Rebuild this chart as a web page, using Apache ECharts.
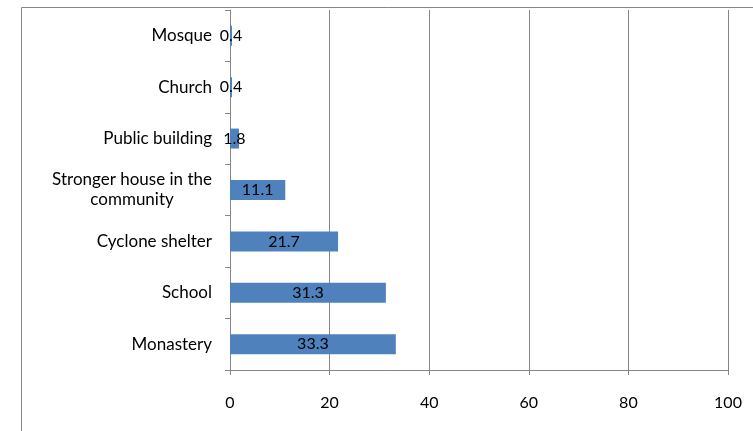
<!DOCTYPE html>
<html>
<head>
<meta charset="utf-8">
<script src="https://cdn.jsdelivr.net/npm/echarts@6/dist/echarts.min.js"></script>
<style>
  html, body { margin: 0; padding: 0; background: #fff; }
  #chart { width: 753px; height: 431px; }
</style>
</head>
<body>
<div id="chart"></div>
<script>
// Places used as shelter, top to bottom, with the share (%) for each
const categories = ['Mosque', 'Church', 'Public building', 'Stronger house in the\ncommunity', 'Cyclone shelter', 'School', 'Monastery'];
const values = [0.4, 0.4, 1.8, 11.1, 21.7, 31.3, 33.3];
const xTicks = [0, 20, 40, 60, 80, 100];

const FONT = 'Lato, "Open Sans", sans-serif';
const GREY = '#868686';

const chart = echarts.init(document.getElementById('chart'), null, { renderer: 'canvas' });

chart.setOption({
  animation: false,
  backgroundColor: '#fff',
  textStyle: { fontFamily: FONT },
  graphic: [{
    type: 'rect',
    shape: { x: 21.5, y: 7.5, width: 900, height: 600 },
    style: { fill: 'none', stroke: GREY, lineWidth: 1 },
    silent: true,
    z: -1
  }],
  grid: { left: 230, right: 25, top: 10, bottom: 61, containLabel: false },
  xAxis: {
    type: 'value',
    min: xTicks[0],
    max: xTicks[xTicks.length - 1],
    interval: xTicks[1] - xTicks[0],
    axisLine: { show: true, lineStyle: { color: GREY } },
    axisTick: { show: true, length: 5, lineStyle: { color: GREY } },
    axisLabel: { color: '#000', fontSize: 16, fontFamily: FONT, margin: 25 },
    splitLine: { show: true, lineStyle: { color: GREY, width: 1 } }
  },
  yAxis: {
    type: 'category',
    inverse: true,
    data: categories,
    axisLine: { show: true, lineStyle: { color: GREY } },
    axisTick: { show: true, length: 5, lineStyle: { color: GREY } },
    axisLabel: {
      color: '#000',
      fontSize: 17,
      fontFamily: FONT,
      margin: 18,
      lineHeight: 20,
      formatter: function (v) {
        return v.split('\n').map(function (s) { return '{c|' + s + '}'; }).join('\n');
      },
      rich: { c: { align: 'center', fontSize: 17, fontFamily: FONT, color: '#000', lineHeight: 20 } }
    }
  },
  series: [{
    type: 'bar',
    data: values,
    barWidth: 20,
    itemStyle: { color: '#4F81BD' },
    label: {
      show: true,
      position: 'inside',
      color: '#000',
      fontSize: 16,
      fontFamily: FONT,
      formatter: function (p) { return p.value.toFixed(1); }
    }
  }]
});
</script>
</body>
</html>
